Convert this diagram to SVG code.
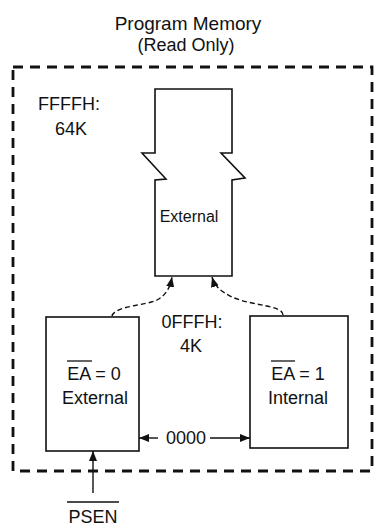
<svg xmlns="http://www.w3.org/2000/svg" width="378" height="530" viewBox="0 0 378 530">
<style>
text{font-family:"Liberation Sans",Arial,sans-serif;fill:#111;text-anchor:middle}
.t{font-size:18px}
.box{fill:#fff;stroke:#111;stroke-width:1.6}
.ln{fill:none;stroke:#111;stroke-width:1.4}
.dl{fill:none;stroke:#111;stroke-width:1.4;stroke-dasharray:5 3}
.ov{stroke:#111;stroke-width:1.3}
</style>
<defs>
<marker id="ah" viewBox="0 0 10 10" refX="10" refY="5" markerWidth="10" markerHeight="10" markerUnits="userSpaceOnUse" orient="auto">
<path d="M0,1 L10,5 L0,9 Z" fill="#111"/>
</marker>
</defs>
<rect width="378" height="530" fill="#fff"/>
<g id="title">
<text class="t" x="188" y="30" style="font-size:19px">Program Memory</text>
<text class="t" x="186" y="51" style="font-size:18px">(Read Only)</text>
</g>
<g id="boundary">
<rect x="13" y="67" width="359" height="404" fill="none" stroke="#111" stroke-width="2.8" stroke-dasharray="10 7"/>
</g>
<g id="label-64k">
<text class="t" x="69" y="110">FFFFH:</text>
<text class="t" x="71" y="135">64K</text>
</g>
<g id="external-64k">
<path class="box" d="M155,89 L232,89 L232,153 L221,153 L245,178 L232,180 L232,276 L155,276 L155,180 L166,179 L142,153 L155,153 Z"/>
<text x="189" y="222" style="font-size:16px">External</text>
</g>
<g id="label-4k">
<text class="t" x="192" y="328">0FFFH:</text>
<text class="t" x="191" y="352">4K</text>
</g>
<g id="ea0">
<rect class="box" x="46" y="317" width="93" height="134"/>
<text class="t" x="94" y="380">EA = 0</text>
<line class="ov" x1="67" y1="361" x2="92" y2="361"/>
<text class="t" x="95" y="404">External</text>
</g>
<g id="ea1">
<rect class="box" x="250" y="316" width="98" height="132"/>
<text class="t" x="298" y="380">EA = 1</text>
<line class="ov" x1="271" y1="361" x2="295" y2="361"/>
<text class="t" x="298" y="404">Internal</text>
</g>
<g id="label-0000">
<text class="t" x="186" y="444">0000</text>
</g>
<g id="psen">
<text class="t" x="93" y="523">PSEN</text>
<line class="ov" x1="67" y1="502" x2="119" y2="502"/>
</g>
<g id="connectors">
<path class="dl" d="M112,316 C114,306 148,305 157,300 C166,295 170,288 172,277" marker-end="url(#ah)"/>
<path class="dl" d="M283,315 C283,305 252,306 232,297 C222,292 215,287 212,277" marker-end="url(#ah)"/>
<line class="ln" x1="158" y1="438" x2="139" y2="438" marker-end="url(#ah)"/>
<line class="ln" x1="210" y1="438" x2="250" y2="438" marker-end="url(#ah)"/>
<line class="ln" x1="93" y1="493" x2="93" y2="451" marker-end="url(#ah)"/>
</g>
</svg>
